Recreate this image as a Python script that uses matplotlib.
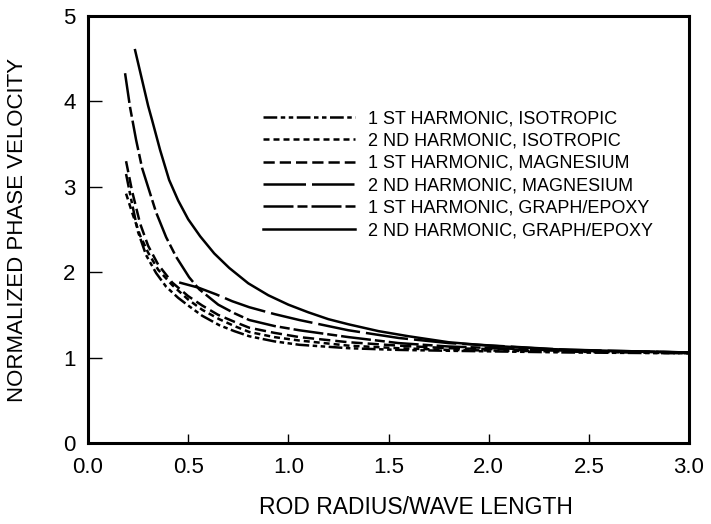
import numpy as np
import matplotlib.pyplot as plt

plt.rcParams.update({
    'font.family': ['Liberation Sans', 'DejaVu Sans'],
    'xtick.direction': 'in',
    'ytick.direction': 'in',
})

# curve data (x = rod radius / wave length)
iso1_x = [0.19, 0.22, 0.25, 0.29, 0.34, 0.39, 0.45, 0.50, 0.57, 0.655, 0.73, 0.805, 0.93, 1.055, 1.3, 1.55, 1.8, 2.4, 3.0]
iso1_y = [3.15, 2.80, 2.47, 2.20, 1.99, 1.83, 1.70, 1.61, 1.49, 1.38, 1.31, 1.25, 1.19, 1.15, 1.11, 1.09, 1.08, 1.06, 1.05]

iso2_x = [0.19, 0.22, 0.26, 0.30, 0.35, 0.42, 0.50, 0.57, 0.655, 0.73, 0.805, 0.93, 1.055, 1.3, 1.55, 1.8, 2.4, 3.0]
iso2_y = [2.92, 2.70, 2.43, 2.23, 2.03, 1.85, 1.68, 1.56, 1.45, 1.37, 1.30, 1.24, 1.20, 1.14, 1.11, 1.09, 1.07, 1.05]

mg1_x = [0.19, 0.22, 0.26, 0.30, 0.35, 0.42, 0.50, 0.57, 0.65, 0.73, 0.805, 0.93, 1.055, 1.3, 1.55, 1.8, 2.4, 3.0]
mg1_y = [3.30, 2.95, 2.57, 2.31, 2.09, 1.88, 1.72, 1.61, 1.50, 1.42, 1.35, 1.29, 1.24, 1.18, 1.14, 1.11, 1.08, 1.06]

mg2_x = [0.455, 0.55, 0.64, 0.72, 0.805, 0.93, 1.055, 1.3, 1.55, 1.8, 2.4, 3.0]
mg2_y = [1.88, 1.82, 1.74, 1.66, 1.59, 1.51, 1.44, 1.32, 1.23, 1.17, 1.09, 1.06]

ge1_x = [0.185, 0.21, 0.24, 0.27, 0.305, 0.34, 0.39, 0.44, 0.505, 0.555, 0.65, 0.73, 0.805, 0.93, 1.055, 1.3, 1.55, 1.8, 2.4, 3.0]
ge1_y = [4.33, 3.93, 3.55, 3.22, 2.96, 2.70, 2.41, 2.18, 1.94, 1.80, 1.62, 1.52, 1.44, 1.37, 1.32, 1.24, 1.17, 1.13, 1.08, 1.06]

ge2_x = [0.235, 0.25, 0.27, 0.30, 0.32, 0.36, 0.405, 0.45, 0.50, 0.56, 0.63, 0.705, 0.80, 0.90, 1.0, 1.1,
         1.2, 1.3, 1.45, 1.6, 1.8, 2.0, 2.3, 2.6, 3.0]
ge2_y = [4.60, 4.45, 4.25, 3.95, 3.78, 3.43, 3.08, 2.84, 2.62, 2.42, 2.22, 2.05, 1.87, 1.73, 1.62, 1.53,
         1.45, 1.39, 1.31, 1.25, 1.18, 1.14, 1.10, 1.08, 1.06]

labels = ['1 ST HARMONIC, ISOTROPIC', '2 ND HARMONIC, ISOTROPIC',
          '1 ST HARMONIC, MAGNESIUM', '2 ND HARMONIC, MAGNESIUM',
          '1 ST HARMONIC, GRAPH/EPOXY', '2 ND HARMONIC, GRAPH/EPOXY']

styles = [(0, (5.5, 1.4, 1.8, 1.4, 1.8, 1.4)),
          (0, (2.4, 1.6)),
          (0, (4.5, 2.0)),
          (0, (17, 2.4)),
          (0, (12, 1.6, 4, 1.6)),
          '-']

series = [(iso1_x, iso1_y), (iso2_x, iso2_y), (mg1_x, mg1_y),
          (mg2_x, mg2_y), (ge1_x, ge1_y), (ge2_x, ge2_y)]

fig = plt.figure(figsize=(7.11, 5.24), dpi=100)
ax = fig.add_axes([88/711, 1 - 443/524, 601/711, 427/524])

for (xs, ys), ls, lab in zip(series, styles, labels):
    ax.plot(xs, ys, color='black', lw=1.8, linestyle=ls, label=lab)

ax.set_xlim(0, 3.0)
ax.set_ylim(0, 5)
ax.set_xticks(np.arange(0, 3.01, 0.5))
ax.set_xticklabels(['0.0', '0.5', '1.0', '1.5', '2.0', '2.5', '3.0'])
ax.set_yticks(range(6))
ax.tick_params(axis='x', length=6.5, width=1, pad=10, labelsize=16)
ax.tick_params(axis='y', length=10, width=1, pad=9, labelsize=16)
for s in ax.spines.values():
    s.set_linewidth(2.2)

ax.set_xlabel('ROD RADIUS/WAVE LENGTH', fontsize=16.5)
ax.xaxis.set_label_coords(0.546, -0.124)
ax.set_ylabel('NORMALIZED PHASE VELOCITY', fontsize=16)
ax.yaxis.set_label_coords(-0.1, 0.5)

ax.legend(loc='upper left', bbox_to_anchor=(263/711, 1 - 110/524),
          bbox_transform=fig.transFigure, frameon=False, fontsize=13,
          handlelength=5.1, handletextpad=0.72, labelspacing=0.3,
          borderpad=0, borderaxespad=0)

fig.savefig('out.png', dpi=100)
